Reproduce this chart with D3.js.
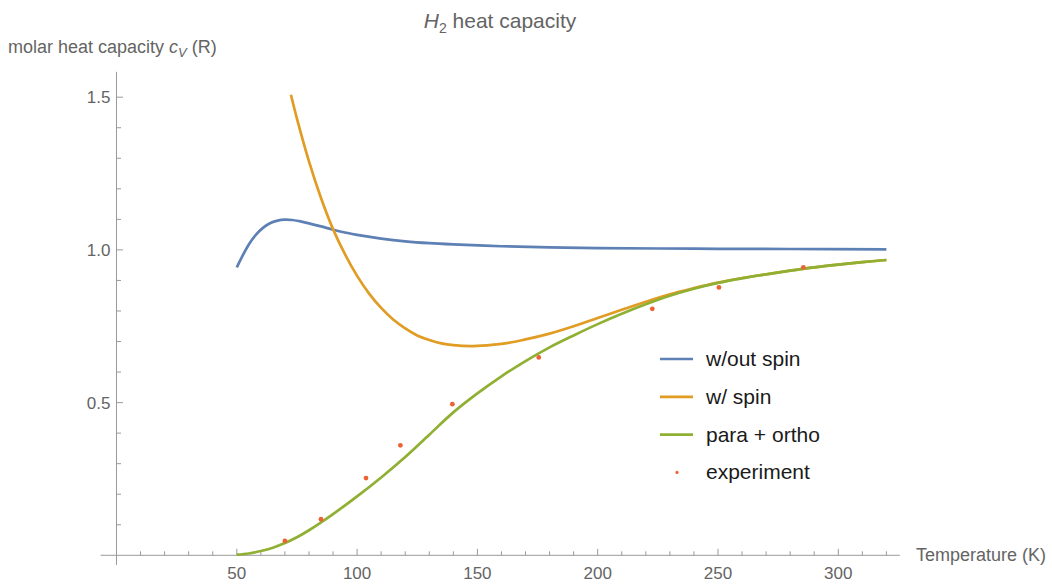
<!DOCTYPE html>
<html>
<head>
<meta charset="utf-8">
<script src="https://cdn.jsdelivr.net/npm/d3@7"></script>
<style>
  body { margin: 0; background: #fff; }
  svg { font-family: "Liberation Sans", Arial, sans-serif; }
  .tick-label { fill: #646464; font-size: 17px; }
  .axis-line { stroke: #9a9a9a; stroke-width: 1; }
</style>
</head>
<body>
<script>
// curves: [temperature K, cv in units of R]
var woutSpin = [[50,0.943],[52,0.975],[55,1.018],[58,1.05],[61,1.073],[64,1.088],[67,1.096],[70,1.099],
  [73,1.098],[76,1.094],[80,1.087],[85,1.077],[90,1.066],[95,1.057],[100,1.049],[110,1.037],[120,1.028],
  [130,1.022],[140,1.018],[160,1.012],[180,1.008],[200,1.006],[240,1.004],[280,1.003],[320,1.002]];
var withSpin = [[72.5,1.508],[75,1.43],[80,1.29],[85,1.17],[90,1.068],[95,0.985],[100,0.915],[105,0.857],
  [110,0.81],[115,0.772],[120,0.743],[125,0.72],[130,0.705],[135,0.694],[140,0.688],[148,0.685],
  [160,0.692],[170,0.707],[180,0.726],[190,0.75],[200,0.777],[210,0.804],[220,0.83],[230,0.855],
  [240,0.875],[250,0.893],[260,0.908],[270,0.92],[280,0.932],[290,0.943],[300,0.952],[310,0.96],[320,0.967]];
var paraOrtho = [[50,0.002],[55,0.006],[60,0.014],[65,0.025],[70,0.04],[75,0.059],[80,0.082],[90,0.135],
  [100,0.193],[110,0.255],[120,0.322],[130,0.395],[140,0.468],[150,0.53],[160,0.586],[170,0.636],
  [180,0.681],[190,0.72],[200,0.757],[210,0.791],[220,0.822],[230,0.85],[240,0.873],[250,0.892],
  [260,0.907],[270,0.92],[280,0.932],[290,0.943],[300,0.952],[310,0.96],[320,0.967]];
var experiment = [[70,0.047],[85,0.118],[103.7,0.253],[118,0.36],[139.6,0.495],[175.5,0.648],
  [222.7,0.807],[250.4,0.877],[285.5,0.943]];

var xMajor = [50, 100, 150, 200, 250, 300];
var yMajor = [0.5, 1.0, 1.5];
var seriesNames = ["w/out spin", "w/ spin", "para + ortho", "experiment"];
var colors = ["#5e81b5", "#e19c24", "#8fb032", "#eb6235"];

var width = 1052, height = 586;

var svg = d3.select("body").append("svg")
    .attr("width", width)
    .attr("height", height);

//scales, origin at (116.5, 555.3)
var x = d3.scaleLinear().domain([0, 320]).range([116.5, 886.4]);
var y = d3.scaleLinear().domain([0, 1.5]).range([555.3, 97.2]);

//axis lines
svg.append("line").attr("class", "axis-line")
    .attr("x1", x(-6.6)).attr("x2", x(325.6))
    .attr("y1", y(0)).attr("y2", y(0));
svg.append("line").attr("class", "axis-line")
    .attr("x1", x(0)).attr("x2", x(0))
    .attr("y1", y(1.583)).attr("y2", y(-0.032));

//x ticks: minor every 10, major every 50, pointing up
var xTicks = d3.range(10, 321, 10);
svg.selectAll(".xtick").data(xTicks).enter().append("line")
    .attr("class", "axis-line xtick")
    .attr("x1", function(d){ return x(d); })
    .attr("x2", function(d){ return x(d); })
    .attr("y1", y(0))
    .attr("y2", function(d){ return y(0) - (d % 50 === 0 ? 6.5 : 4); });
svg.selectAll(".xlab").data(xMajor).enter().append("text")
    .attr("class", "tick-label")
    .attr("x", function(d){ return x(d); })
    .attr("y", y(0) + 24)
    .attr("text-anchor", "middle")
    .text(function(d){ return d; });

//y ticks: minor every 0.1, pointing right
var yTicks = d3.range(1, 16).map(function(i){ return i / 10; });
svg.selectAll(".ytick").data(yTicks).enter().append("line")
    .attr("class", "axis-line ytick")
    .attr("x1", x(0))
    .attr("x2", function(d, i){ return x(0) + ((i + 1) % 5 === 0 ? 6.5 : 4.5); })
    .attr("y1", function(d){ return y(d); })
    .attr("y2", function(d){ return y(d); });
svg.selectAll(".ylab").data(yMajor).enter().append("text")
    .attr("class", "tick-label")
    .attr("x", x(0) - 6)
    .attr("y", function(d){ return y(d) + 6; })
    .attr("text-anchor", "end")
    .text(function(d){ return d.toFixed(1); });

//axis titles
svg.append("text").attr("class", "tick-label")
    .attr("x", 916).attr("y", y(0) + 6)
    .style("font-size", "18px")
    .text("Temperature (K)");

var ylab = svg.append("text").attr("class", "tick-label")
    .attr("x", 8).attr("y", 53)
    .style("font-size", "18px");
ylab.append("tspan").text("molar heat capacity ");
ylab.append("tspan").style("font-style", "italic").text("c");
ylab.append("tspan").style("font-style", "italic").style("font-size", "13px").attr("dy", 4).text("V");
ylab.append("tspan").attr("dy", -4).text(" (R)");

var title = svg.append("text").attr("class", "tick-label")
    .attr("x", 500).attr("y", 28)
    .attr("text-anchor", "middle")
    .style("font-size", "21px");
title.append("tspan").style("font-style", "italic").text("H");
title.append("tspan").style("font-size", "14px").attr("dy", 5).text("2");
title.append("tspan").attr("dy", -5).text(" heat capacity");

//curves
var line = d3.line()
    .x(function(d){ return x(d[0]); })
    .y(function(d){ return y(d[1]); })
    .curve(d3.curveCatmullRom.alpha(0.5));

[woutSpin, withSpin, paraOrtho].forEach(function(s, i){
    svg.append("path")
        .datum(s)
        .attr("d", line)
        .attr("fill", "none")
        .attr("stroke", colors[i])
        .attr("stroke-width", 2.7)
        .attr("stroke-linejoin", "round");
});

svg.selectAll(".pt").data(experiment).enter().append("circle")
    .attr("class", "pt")
    .attr("cx", function(d){ return x(d[0]); })
    .attr("cy", function(d){ return y(d[1]); })
    .attr("r", 2.4)
    .attr("fill", colors[3]);

//legend
var legend = svg.append("g").attr("transform", "translate(660,359)");
seriesNames.forEach(function(name, i){
    var g = legend.append("g").attr("transform", "translate(0," + (i * 37.8) + ")");
    if (i < 3) {
        g.append("line")
            .attr("x1", 0).attr("x2", 33)
            .attr("stroke", colors[i])
            .attr("stroke-width", 2.7);
    } else {
        g.append("circle").attr("cx", 17).attr("cy", 0).attr("r", 1.6).attr("fill", colors[i]);
    }
    g.append("text")
        .attr("x", 46).attr("y", 7)
        .style("font-size", "21px")
        .attr("fill", "#1a1a1a")
        .text(name);
});
</script>
</body>
</html>
